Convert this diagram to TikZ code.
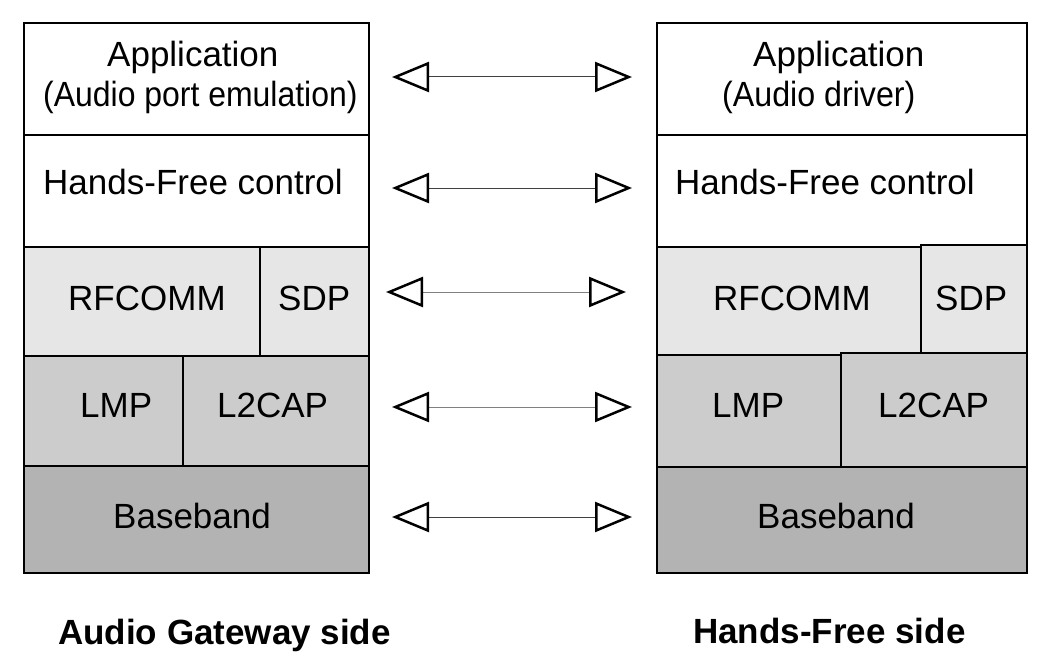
\documentclass[tikz,border=0pt]{standalone}
\usepackage{fontspec}
\usepackage{graphicx}
\setmainfont{Liberation Sans}
\usetikzlibrary{arrows.meta}
\definecolor{bandA}{HTML}{E6E6E6}
\definecolor{bandB}{HTML}{CCCCCC}
\definecolor{bandC}{HTML}{B3B3B3}
\tikzset{
  layer/.style={draw=black, line width=2.5bp, inner sep=0pt, rectangle},
  txt/.style={inner sep=0pt, anchor=base west, font=\fontsize{35bp}{42bp}\selectfont},
  sidecaption/.style={inner sep=0pt, anchor=base west, font=\fontsize{35bp}{42bp}\selectfont\bfseries},
  peer/.style={draw=black!75, line width=1bp,
    {Triangle[open,length=37bp,width=30bp,line width=2.5bp,color=black]}-{Triangle[open,length=37bp,width=30bp,line width=2.5bp,color=black]}}
}
\begin{document}
\begin{tikzpicture}[x=1bp,y=-1bp]
\useasboundingbox[fill=white] (0,0) rectangle (1046,664);
% left stack
\node[layer, fill=white, minimum width=345bp, minimum height=112bp] (appL) at (196.5,79) {};
\node[layer, fill=white, minimum width=345bp, minimum height=112bp] (hfL) at (196.5,191) {};
\node[layer, fill=bandA, minimum width=236bp, minimum height=109bp] (rfL) at (142,301.5) {};
\node[layer, fill=bandA, minimum width=109bp, minimum height=109bp] (sdpL) at (314.5,301.5) {};
\node[layer, fill=bandB, minimum width=159bp, minimum height=110bp] (lmpL) at (103.5,411) {};
\node[layer, fill=bandB, minimum width=186bp, minimum height=110bp] (l2L) at (276,411) {};
\node[layer, fill=bandC, minimum width=345bp, minimum height=107bp] (bbL) at (196.5,519.5) {};
% right stack
\node[layer, fill=white, minimum width=370bp, minimum height=112bp] (appR) at (842,79) {};
\node[layer, fill=white, minimum width=370bp, minimum height=112bp] (hfR) at (842,191) {};
\node[layer, fill=bandA, minimum width=264bp, minimum height=108bp] (rfR) at (789,301) {};
\node[layer, fill=bandA, minimum width=106bp, minimum height=108bp] (sdpR) at (974,299) {};
\node[layer, fill=bandB, minimum width=184bp, minimum height=112bp] (lmpR) at (749,411) {};
\node[layer, fill=bandB, minimum width=186bp, minimum height=114bp] (l2R) at (934,410) {};
\node[layer, fill=bandC, minimum width=370bp, minimum height=106bp] (bbR) at (842,520) {};
% left texts
\node[txt] (tAppL) at (107,67) {Application};
\node[txt] (tAppL2) at (43,107) {\scalebox{0.913}[1]{(Audio port emulation)}};
\node[txt] (tHfL) at (43,195) {Hands-Free control};
\node[txt] (tRfL) at (68,310) {RFCOMM};
\node[txt] (tSdpL) at (278,310) {SDP};
\node[txt] (tLmpL) at (80,417) {LMP};
\node[txt] (tL2L) at (217,417) {L2CAP};
\node[txt] (tBbL) at (113,528) {Baseband};
% right texts
\node[txt] (tAppR) at (753,67) {Application};
\node[txt] (tAppR2) at (722,107) {\scalebox{0.92}[1]{(Audio driver)}};
\node[txt] (tHfR) at (675,195) {Hands-Free control};
\node[txt] (tRfR) at (713,310) {RFCOMM};
\node[txt] (tSdpR) at (935,310) {SDP};
\node[txt] (tLmpR) at (712,417) {LMP};
\node[txt] (tL2R) at (878,417) {L2CAP};
\node[txt] (tBbR) at (757,528) {Baseband};
% captions
\node[sidecaption] (capL) at (58,644) {Audio Gateway side};
\node[sidecaption] (capR) at (693,643) {Hands-Free side};
% peer arrows
\coordinate (a1) at (392,77);  \coordinate (b1) at (632,77);
\coordinate (a2) at (392,188); \coordinate (b2) at (632,188);
\coordinate (a3) at (386,292); \coordinate (b3) at (626,292);
\coordinate (a4) at (392,407); \coordinate (b4) at (632,407);
\coordinate (a5) at (392,517); \coordinate (b5) at (632,517);
\draw[peer] (a1) -- (b1);
\draw[peer] (a2) -- (b2);
\draw[peer, draw=black!50] (a3) -- (b3);
\draw[peer, draw=black!50] (a4) -- (b4);
\draw[peer] (a5) -- (b5);
\end{tikzpicture}
\end{document}
